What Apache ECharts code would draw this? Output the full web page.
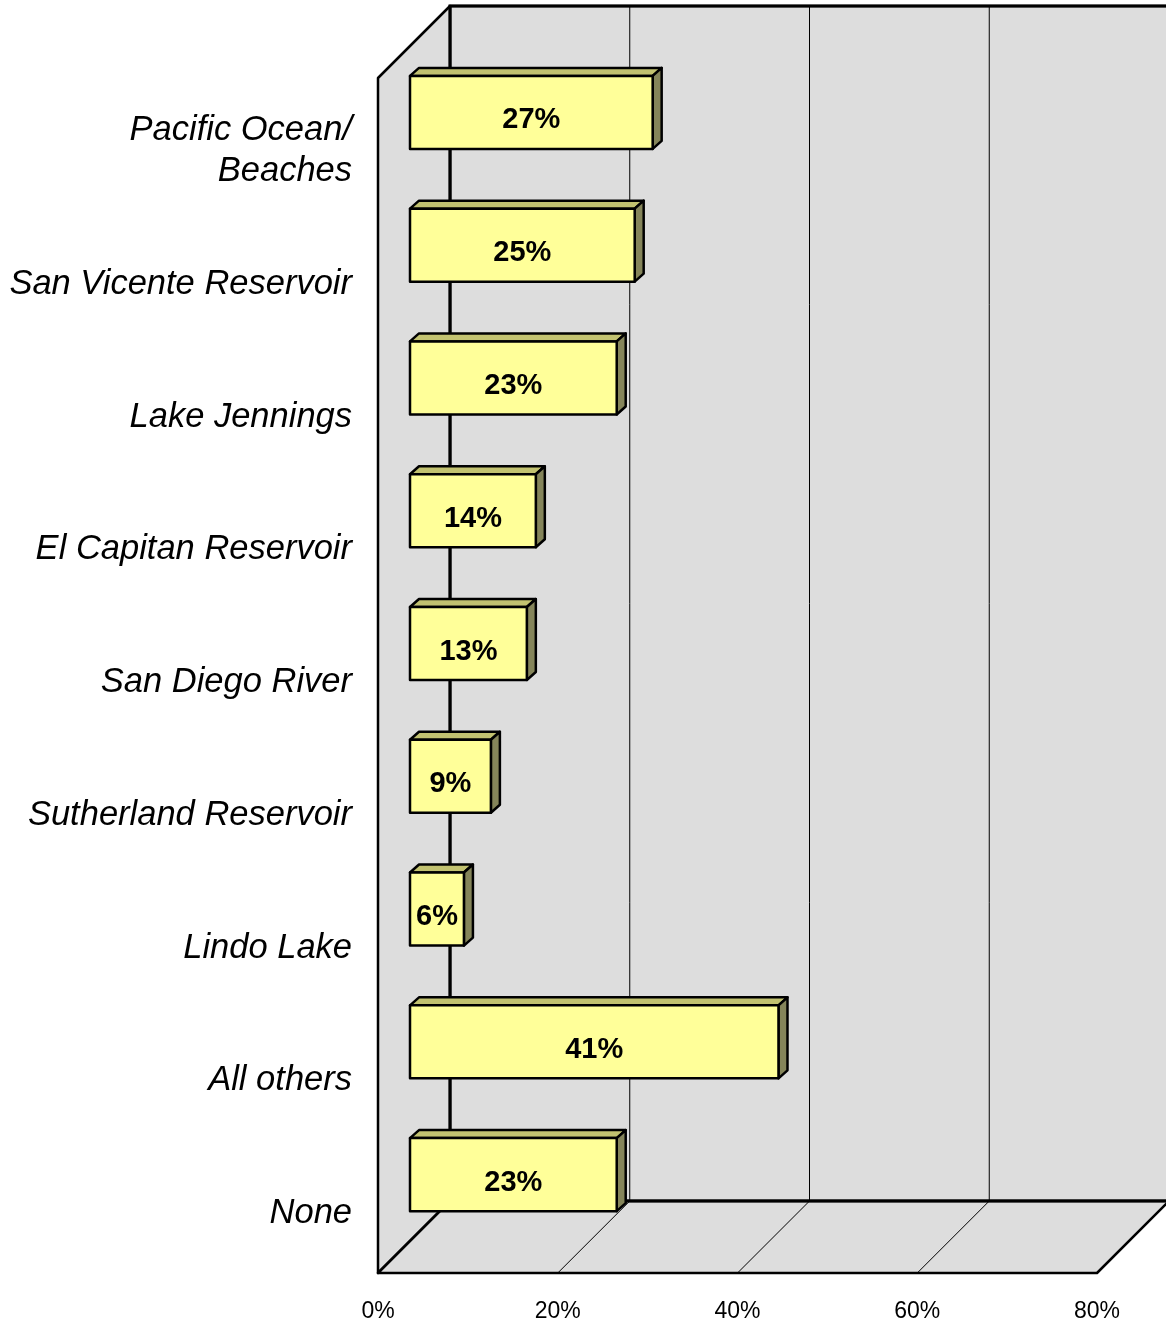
<!DOCTYPE html>
<html>
<head>
<meta charset="utf-8">
<script src="https://cdn.jsdelivr.net/npm/echarts@6/dist/echarts.min.js"></script>
<style>
html, body { margin: 0; padding: 0; background: #fff; }
#chart { width: 1166px; height: 1326px; }
</style>
</head>
<body>
<div id="chart"></div>
<script>
var categories = ['Pacific Ocean/\nBeaches', 'San Vicente Reservoir', 'Lake Jennings', 'El Capitan Reservoir',
    'San Diego River', 'Sutherland Reservoir', 'Lindo Lake', 'All others', 'None'];
var values = [27, 25, 23, 14, 13, 9, 6, 41, 23];
var ticks = [0, 20, 40, 60, 80];

var FONT = 'Liberation Sans, Arial, sans-serif';
// 3D depth of the box (front plane -> back wall), and bar offset inside it
var DX = 72, DY = -72;
var BAR_DX = 32, BAR_DY = -32;
var CAP_DX = 9, CAP_DY = -8;
var WALL = '#dddddd';
// category labels sit a bit lower than the band centres
var LABEL_SHIFT = 7;

var front = { left: 378, top: 78, width: 719, height: 1195 };

var chart = echarts.init(document.getElementById('chart'));

var barData = values.map(function(v, i) { return [v, i]; });

var renderBar = function(params, api) {
    var v = api.value(0), i = api.value(1);
    var p0 = api.coord([0, i]);
    var p1 = api.coord([v, i]);
    var h = api.size([0, 1])[1] * 0.55;
    var x = p0[0], x2 = p1[0], y = p0[1] - h / 2;
    var line = { stroke: '#000', lineWidth: 2.5, lineJoin: 'round' };
    return {
        type: 'group',
        children: [{
            type: 'polygon',
            shape: { points: [[x, y], [x + CAP_DX, y + CAP_DY], [x2 + CAP_DX, y + CAP_DY], [x2, y]] },
            style: Object.assign({ fill: '#c2c270' }, line)
        }, {
            type: 'polygon',
            shape: { points: [[x2, y], [x2 + CAP_DX, y + CAP_DY], [x2 + CAP_DX, y + h + CAP_DY], [x2, y + h]] },
            style: Object.assign({ fill: '#85855a' }, line)
        }, {
            type: 'rect',
            shape: { x: x, y: y, width: x2 - x, height: h },
            style: Object.assign({ fill: '#ffff99' }, line)
        }, {
            type: 'text',
            style: {
                x: (x + x2) / 2, y: y + h / 2 + 8,
                text: v + '%', align: 'center', verticalAlign: 'middle',
                font: 'bold 29px ' + FONT, fill: '#000'
            }
        }]
    };
};

var option = {
    animation: false,
    backgroundColor: '#fff',
    grid: [
        { left: front.left, top: front.top + LABEL_SHIFT, width: front.width, height: front.height },
        { left: front.left + BAR_DX, top: front.top + BAR_DY, width: front.width, height: front.height }
    ],
    xAxis: [{
        gridIndex: 0, type: 'value', min: 0, max: 80, interval: 20,
        axisLine: { show: false }, axisTick: { show: false }, splitLine: { show: false },
        axisLabel: { formatter: '{value}%', fontSize: 23, fontFamily: FONT, color: '#000', margin: 27 - LABEL_SHIFT }
    }, {
        gridIndex: 1, type: 'value', min: 0, max: 80, interval: 20, show: false
    }],
    yAxis: [{
        gridIndex: 0, type: 'category', inverse: true, data: categories,
        axisLine: { show: false }, axisTick: { show: false }, splitLine: { show: false },
        axisLabel: {
            fontSize: 34.5, fontStyle: 'italic', fontFamily: FONT, color: '#000',
            lineHeight: 41, margin: 26, align: 'right'
        }
    }, {
        gridIndex: 1, type: 'category', inverse: true, data: categories, show: false
    }],
    series: [{
        type: 'custom',
        xAxisIndex: 1, yAxisIndex: 1,
        renderItem: renderBar,
        encode: { x: 0, y: 1 },
        data: barData,
        clip: false,
        z: 10
    }]
};
chart.setOption(option);

// walls, floor and gridlines, placed from the front axis scale
var buildBox = function() {
    var px = function(v) { return chart.convertToPixel({ xAxisIndex: 0 }, v); };
    var x0 = px(ticks[0]), xN = px(ticks[ticks.length - 1]);
    var yTop = front.top, yBot = front.top + front.height;
    var thick = { stroke: '#000', lineWidth: 2.5, lineJoin: 'round' };
    var graphics = [{
        type: 'polygon', z: 1,
        shape: { points: [[x0 + DX, yTop + DY], [xN + DX, yTop + DY], [xN + DX, yBot + DY], [x0 + DX, yBot + DY]] },
        style: Object.assign({ fill: WALL }, thick)
    }, {
        type: 'polygon', z: 1,
        shape: { points: [[x0, yTop], [x0 + DX, yTop + DY], [x0 + DX, yBot + DY], [x0, yBot]] },
        style: Object.assign({ fill: WALL }, thick)
    }, {
        type: 'polygon', z: 1,
        shape: { points: [[x0, yBot], [xN, yBot], [xN + DX, yBot + DY], [x0 + DX, yBot + DY]] },
        style: Object.assign({ fill: WALL }, thick)
    }];
    ticks.slice(1, -1).forEach(function(t) {
        var x = px(t);
        graphics.push({
            type: 'line', z: 2,
            shape: { x1: x + DX, y1: yTop + DY, x2: x + DX, y2: yBot + DY },
            style: { stroke: '#000', lineWidth: 1 }
        });
        graphics.push({
            type: 'line', z: 2,
            shape: { x1: x, y1: yBot, x2: x + DX, y2: yBot + DY },
            style: { stroke: '#000', lineWidth: 1 }
        });
    });
    // back edges thick over the thin lines
    graphics.push({
        type: 'polyline', z: 3,
        shape: { points: [[xN + DX, yTop + DY], [x0 + DX, yTop + DY], [x0 + DX, yBot + DY], [xN + DX, yBot + DY]] },
        style: { stroke: '#000', lineWidth: 3, fill: null }
    });
    chart.setOption({ graphic: graphics });
};
buildBox();
</script>
</body>
</html>
